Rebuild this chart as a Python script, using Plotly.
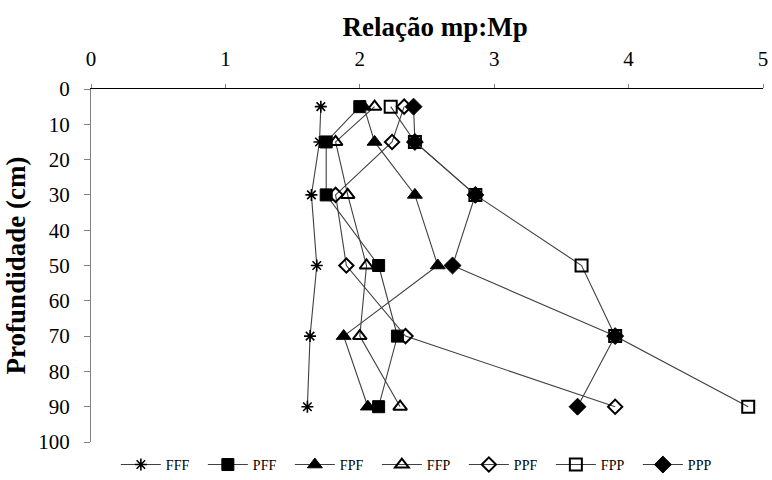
import plotly.graph_objects as go

depth = [5, 15, 30, 50, 70, 90]
series_names = ["FFF", "PFF", "FPF", "FFP", "PPF", "FPP", "PPP"]
FFF = [1.71, 1.70, 1.64, 1.68, 1.63, 1.61]
PFF = [2.00, 1.75, 1.75, 2.14, 2.28, 2.14]
FPF = [2.03, 2.11, 2.41, 2.58, 1.88, 2.06]
FFP = [2.11, 1.82, 1.91, 2.05, 2.00, 2.30]
PPF = [2.33, 2.24, 1.82, 1.90, 2.34, 3.90]
FPP = [2.23, 2.41, 2.86, 3.65, 3.90, 4.89]
PPP = [2.40, 2.41, 2.86, 2.69, 3.90, 3.62]
x_ticks = [0, 1, 2, 3, 4, 5]
y_ticks = [0, 10, 20, 30, 40, 50, 60, 70, 80, 90, 100]

values = [FFF, PFF, FPF, FFP, PPF, FPP, PPP]
styles = [
    dict(symbol="asterisk-open", size=10, color="black", line=dict(color="black", width=1.6)),
    dict(symbol="square", size=12, color="black", line=dict(color="black", width=1)),
    dict(symbol="triangle-up", size=13, color="black", line=dict(color="black", width=1)),
    dict(symbol="triangle-up-open", size=12, color="black", line=dict(color="black", width=2)),
    dict(symbol="diamond-open", size=11, color="black", line=dict(color="black", width=2)),
    dict(symbol="square-open", size=12, color="black", line=dict(color="black", width=2)),
    dict(symbol="diamond", size=13, color="black", line=dict(color="black", width=1)),
]

fig = go.Figure()
for name, vals, mk in zip(series_names, values, styles):
    fig.add_trace(go.Scatter(
        x=vals, y=depth, name=name, mode="lines+markers",
        line=dict(color="#404040", width=1.1),
        marker=mk,
    ))

font_family = "Liberation Serif, Times New Roman, serif"
fig.update_layout(
    width=772, height=480,
    margin=dict(l=91, r=9, t=89, b=38, autoexpand=False),
    paper_bgcolor="white", plot_bgcolor="white",
    font=dict(family=font_family, color="black"),
    title=dict(text="<b>Relação mp:Mp</b>", x=0.512, xref="paper", xanchor="center",
               y=0.944, yref="container", yanchor="middle",
               font=dict(size=27, family=font_family)),
    showlegend=True,
    legend=dict(orientation="h", x=0.037, xanchor="left", y=-0.065, yanchor="middle",
                font=dict(size=14, family=font_family), itemwidth=40,
                entrywidth=32, entrywidthmode="pixels",
                traceorder="normal", bgcolor="rgba(0,0,0,0)"),
    xaxis=dict(side="top", range=[0, 5], tickvals=x_ticks, showline=True,
               linecolor="black", linewidth=1, ticks="outside", ticklen=4,
               tickcolor="#808080", showgrid=False, zeroline=False,
               ticklabelstandoff=10,
               tickfont=dict(size=21, family=font_family)),
    yaxis=dict(range=[100, 0], tickvals=y_ticks, showline=True,
               linecolor="#808080", linewidth=1, ticks="outside", ticklen=6,
               tickcolor="#808080", showgrid=False, zeroline=False,
               ticklabelstandoff=10,
               tickfont=dict(size=21, family=font_family),
               title=dict(text="<b>Profundidade (cm)</b>", font=dict(size=27, family=font_family),
                          standoff=4)),
)

fig.write_html("out.html")
